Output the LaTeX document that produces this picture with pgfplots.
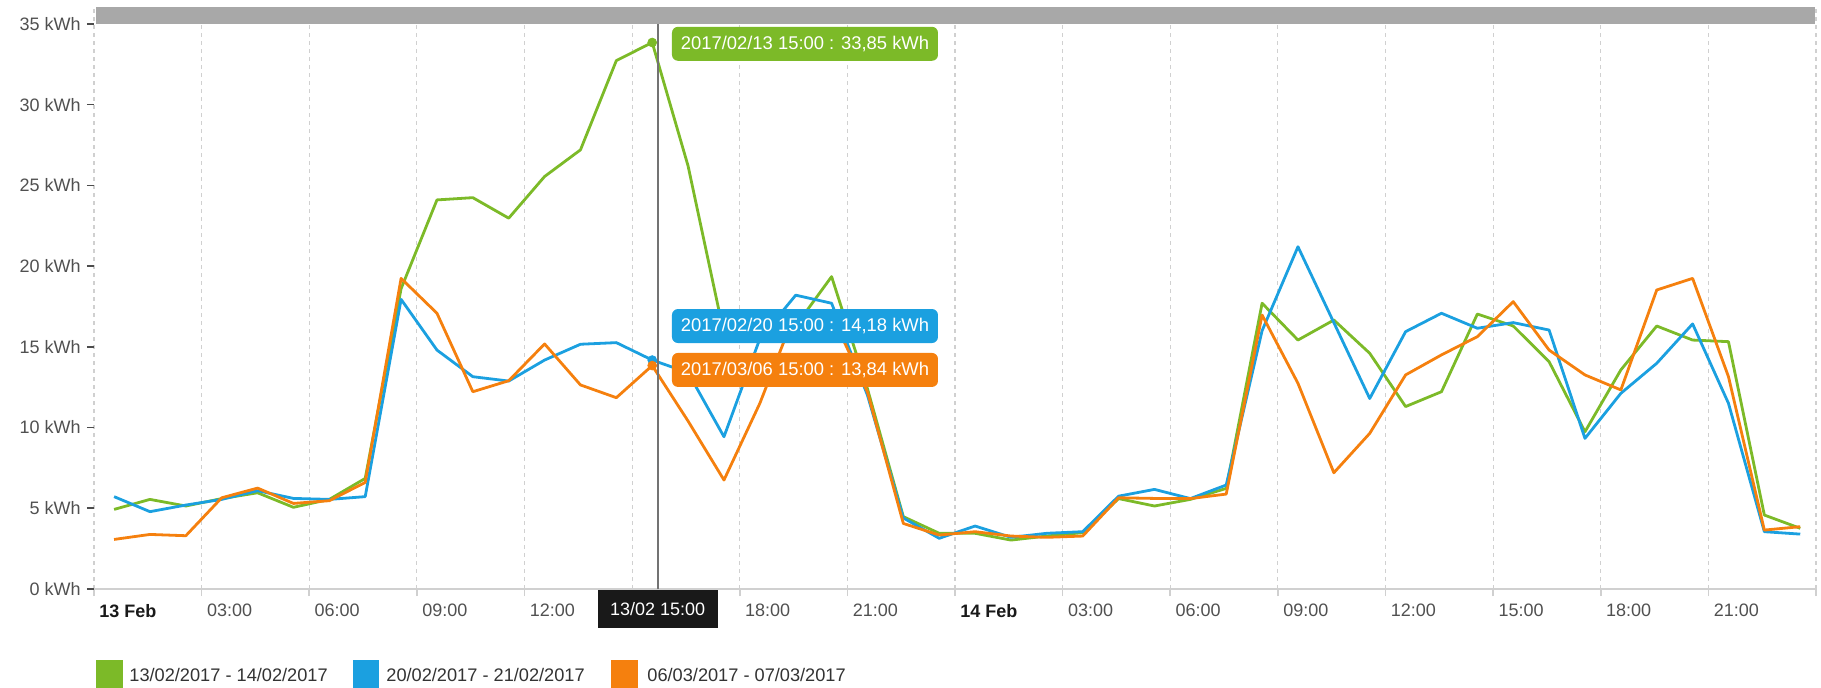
\documentclass[border=0pt]{standalone}
\usepackage{fontspec}
\setmainfont{Liberation Sans}
\usepackage{pgfplots}
\pgfplotsset{compat=1.18}
\usepackage{pgfplotstable}

\definecolor{cgreen}{RGB}{124,186,40}
\definecolor{cblue}{RGB}{27,160,224}
\definecolor{corange}{RGB}{245,128,14}
\definecolor{cbar}{RGB}{168,168,168}
\definecolor{ctext}{RGB}{80,80,80}
\definecolor{cgrid}{RGB}{208,208,208}

\newcommand\tickfont{\fontsize{9bp}{10bp}\selectfont}
\newcommand\tipfont{\fontsize{9.2bp}{10bp}\selectfont}

\pgfplotstableread{
h green blue orange
0 4.93 5.72 3.07
1 5.55 4.79 3.38
2 5.14 5.20 3.30
3 5.60 5.55 5.65
4 5.96 6.09 6.25
5 5.06 5.61 5.30
6 5.55 5.55 5.47
7 6.85 5.72 6.60
8 18.60 17.94 19.24
9 24.10 14.80 17.08
10 24.24 13.15 12.22
11 22.97 12.88 12.90
12 25.55 14.18 15.18
13 27.20 15.16 12.64
14 32.73 15.26 11.85
15 33.85 14.18 13.84
16 26.20 13.40 10.40
17 15.80 9.43 6.75
18 16.00 15.50 11.50
19 16.30 18.20 17.20
20 19.35 17.70 17.00
21 12.40 12.00 12.20
22 4.48 4.40 4.06
23 3.45 3.14 3.34
24 3.45 3.90 3.55
25 3.03 3.20 3.28
26 3.28 3.45 3.20
27 3.49 3.55 3.28
28 5.60 5.75 5.65
29 5.14 6.17 5.61
30 5.55 5.60 5.60
31 6.23 6.44 5.88
32 17.70 16.00 16.97
33 15.42 21.20 12.74
34 16.66 16.50 7.20
35 14.60 11.80 9.64
36 11.30 15.94 13.26
37 12.22 17.08 14.50
38 17.03 16.15 15.63
39 16.29 16.50 17.80
40 14.08 16.04 14.80
41 9.74 9.33 13.26
42 13.57 12.12 12.33
43 16.29 13.98 18.52
44 15.42 16.42 19.24
45 15.32 11.50 13.15
46 4.58 3.55 3.65
47 3.76 3.40 3.86
}\energydata

\begin{document}
\begin{tikzpicture}
\begin{axis}[
  at={(0,0)}, anchor=south west,
  scale only axis, width=861bp, height=291bp,
  xmin=-0.56, xmax=47.44, ymin=0, ymax=36.05,
  clip=false,
  axis line style={draw=none},
  tick pos=left, tick align=outside, major tick length=3.5bp,
  xtick={-0.56,2.44,5.44,8.44,11.44,14.44,17.44,20.44,23.44,26.44,29.44,32.44,35.44,38.44,41.44,44.44,47.44},
  xticklabels={\textbf{\color{black!90}13 Feb},03:00,06:00,09:00,12:00,{},18:00,21:00,\textbf{\color{black!90}14 Feb},03:00,06:00,09:00,12:00,15:00,18:00,21:00,{}},
  xticklabel style={anchor=north west, inner sep=0pt, xshift=2.5bp, yshift=-4bp, font=\tickfont, text=ctext},
  ytick={0,5,10,15,20,25,30,35},
  yticklabels={0 kWh,5 kWh,10 kWh,15 kWh,20 kWh,25 kWh,30 kWh,35 kWh},
  yticklabel style={anchor=east, inner sep=0pt, xshift=-3bp, font=\tickfont, text=ctext},
  xtick style={draw=cgrid, line width=0.8bp},
  ytick style={draw=black!70, line width=0.8bp},
  xmajorgrids=true, ymajorgrids=false,
  grid style={cgrid, dash pattern=on 2bp off 2bp, line width=0.6bp},
]
% top band
\fill[cbar] (axis cs:-0.5,35) rectangle (axis cs:47.4,36.05);
% x axis line
\draw[cgrid, line width=1bp] (axis cs:-0.56,0) -- (axis cs:47.44,0);

\addplot[cgreen, line width=1.4bp, line join=round, mark=none] table[x=h, y=green] {\energydata};
\addplot[cblue, line width=1.4bp, line join=round, mark=none] table[x=h, y=blue] {\energydata};
\addplot[corange, line width=1.4bp, line join=round, mark=none] table[x=h, y=orange] {\energydata};

% crosshair
\draw[black!55, line width=1bp] (axis cs:15.15,0) -- (axis cs:15.15,35);

\addplot[cgreen, only marks, mark=*, mark size=2.2bp] coordinates {(15,33.85)};
\addplot[cblue, only marks, mark=*, mark size=2.2bp] coordinates {(15,14.18)};
\addplot[corange, only marks, mark=*, mark size=2.2bp] coordinates {(15,13.84)};

% tooltips
\node[fill=cgreen, rounded corners=3bp, minimum width=133bp, minimum height=17bp, inner sep=0pt, anchor=west, text=white, font=\tipfont] at (axis cs:15.54,33.77) {2017/02/13 15:00 : 33,85 kWh};
\node[fill=cblue, rounded corners=3bp, minimum width=133bp, minimum height=17bp, inner sep=0pt, anchor=west, text=white, font=\tipfont] at (axis cs:15.54,16.29) {2017/02/20 15:00 : 14,18 kWh};
\node[fill=corange, rounded corners=3bp, minimum width=133bp, minimum height=17bp, inner sep=0pt, anchor=west, text=white, font=\tipfont] at (axis cs:15.54,13.57) {2017/03/06 15:00 : 13,84 kWh};

% crosshair label
\node[fill=black!90, minimum width=60bp, minimum height=19bp, inner sep=0pt, anchor=north, text=white, font=\tickfont, yshift=-0.5bp] at (axis cs:15.15,0) {13/02 15:00};
\end{axis}

% legend
\fill[cgreen] (1bp,-35.5bp) rectangle (14.5bp,-51bp);
\node[anchor=west, inner sep=0pt, font=\fontsize{9.1bp}{10bp}\selectfont, text=black!80] at (17.5bp,-43bp) {13/02/2017 - 14/02/2017};
\fill[cblue] (129.5bp,-35.5bp) rectangle (142.5bp,-51bp);
\node[anchor=west, inner sep=0pt, font=\fontsize{9.1bp}{10bp}\selectfont, text=black!80] at (146bp,-43bp) {20/02/2017 - 21/02/2017};
\fill[corange] (258.5bp,-35.5bp) rectangle (272bp,-51bp);
\node[anchor=west, inner sep=0pt, font=\fontsize{9.1bp}{10bp}\selectfont, text=black!80] at (276.5bp,-43bp) {06/03/2017 - 07/03/2017};

\pgfresetboundingbox
\path[use as bounding box] (-47bp,-49.5bp) rectangle (863.5bp,294.5bp);
\end{tikzpicture}
\end{document}
